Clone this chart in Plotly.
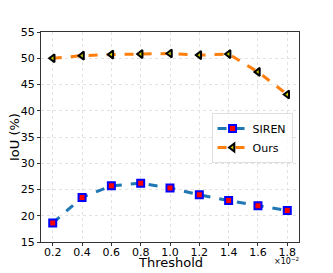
import plotly.graph_objects as go

thresholds = [0.2, 0.4, 0.6, 0.8, 1.0, 1.2, 1.4, 1.6, 1.8]
siren = [18.6, 23.5, 25.7, 26.2, 25.3, 24.0, 22.9, 21.9, 21.0]
ours = [50.0, 50.5, 50.7, 50.8, 50.9, 50.6, 50.8, 47.4, 43.1]
xtick_vals = [0.2, 0.4, 0.6, 0.8, 1.0, 1.2, 1.4, 1.6, 1.8]
xtick_text = ["0.2", "0.4", "0.6", "0.8", "1.0", "1.2", "1.4", "1.6", "1.8"]
ytick_vals = [15, 20, 25, 30, 35, 40, 45, 50, 55]

fig = go.Figure()
fig.add_trace(go.Scatter(
    x=thresholds, y=siren, name="SIREN", mode="lines+markers",
    line=dict(color="#1f77b4", width=3, dash="dash"),
    marker=dict(symbol="square", size=7, color="red", line=dict(color="blue", width=2)),
))
fig.add_trace(go.Scatter(
    x=thresholds, y=ours, name="Ours", mode="lines+markers",
    line=dict(color="#ff7f0e", width=3, dash="dash"),
    marker=dict(symbol="triangle-left", size=7, color="#c8c800", line=dict(color="black", width=2)),
))

axis_common = dict(
    showline=True, linecolor="#333333", linewidth=1, mirror=True,
    showgrid=True, gridcolor="#e2e2e2", griddash="dot", gridwidth=1,
    ticks="outside", ticklen=3, tickcolor="#333333",
    tickfont=dict(family="DejaVu Sans", size=11, color="black"),
    zeroline=False, automargin=False,
)
fig.update_xaxes(range=[0.12, 1.88], tickvals=xtick_vals, ticktext=xtick_text,
                 ticklabelstandoff=-3, **axis_common)
fig.update_yaxes(range=[15, 55], tickvals=ytick_vals, **axis_common)

title_font = dict(family="DejaVu Sans", size=13, color="black")
fig.add_annotation(x=0.5, y=0, xref="paper", yref="paper", xanchor="center", yanchor="middle",
                   yshift=-20, text="Threshold", showarrow=False, font=title_font)
fig.add_annotation(x=0, y=0.5, xref="paper", yref="paper", xanchor="center", yanchor="middle",
                   xshift=-27, text="IoU (%)", textangle=-90, showarrow=False, font=title_font)
fig.add_annotation(x=1.0, y=0, xref="paper", yref="paper", xanchor="right", yanchor="middle",
                   xshift=2, yshift=-19, text="×10<sup>−2</sup>", showarrow=False,
                   font=dict(family="DejaVu Sans", size=8, color="black"))

fig.update_layout(
    width=325, height=265,
    margin=dict(l=33, r=34, t=24, b=31, autoexpand=False),
    paper_bgcolor="white", plot_bgcolor="white",
    font=dict(family="DejaVu Sans", color="black"),
    legend=dict(x=0.975, y=0.495, xanchor="right", yanchor="middle",
                bgcolor="rgba(255,255,255,0.8)", bordercolor="#e0e0e0", borderwidth=1,
                font=dict(family="DejaVu Sans", size=11, color="black"),
                tracegroupgap=0, itemwidth=30),
)

fig.write_html("out.html")
